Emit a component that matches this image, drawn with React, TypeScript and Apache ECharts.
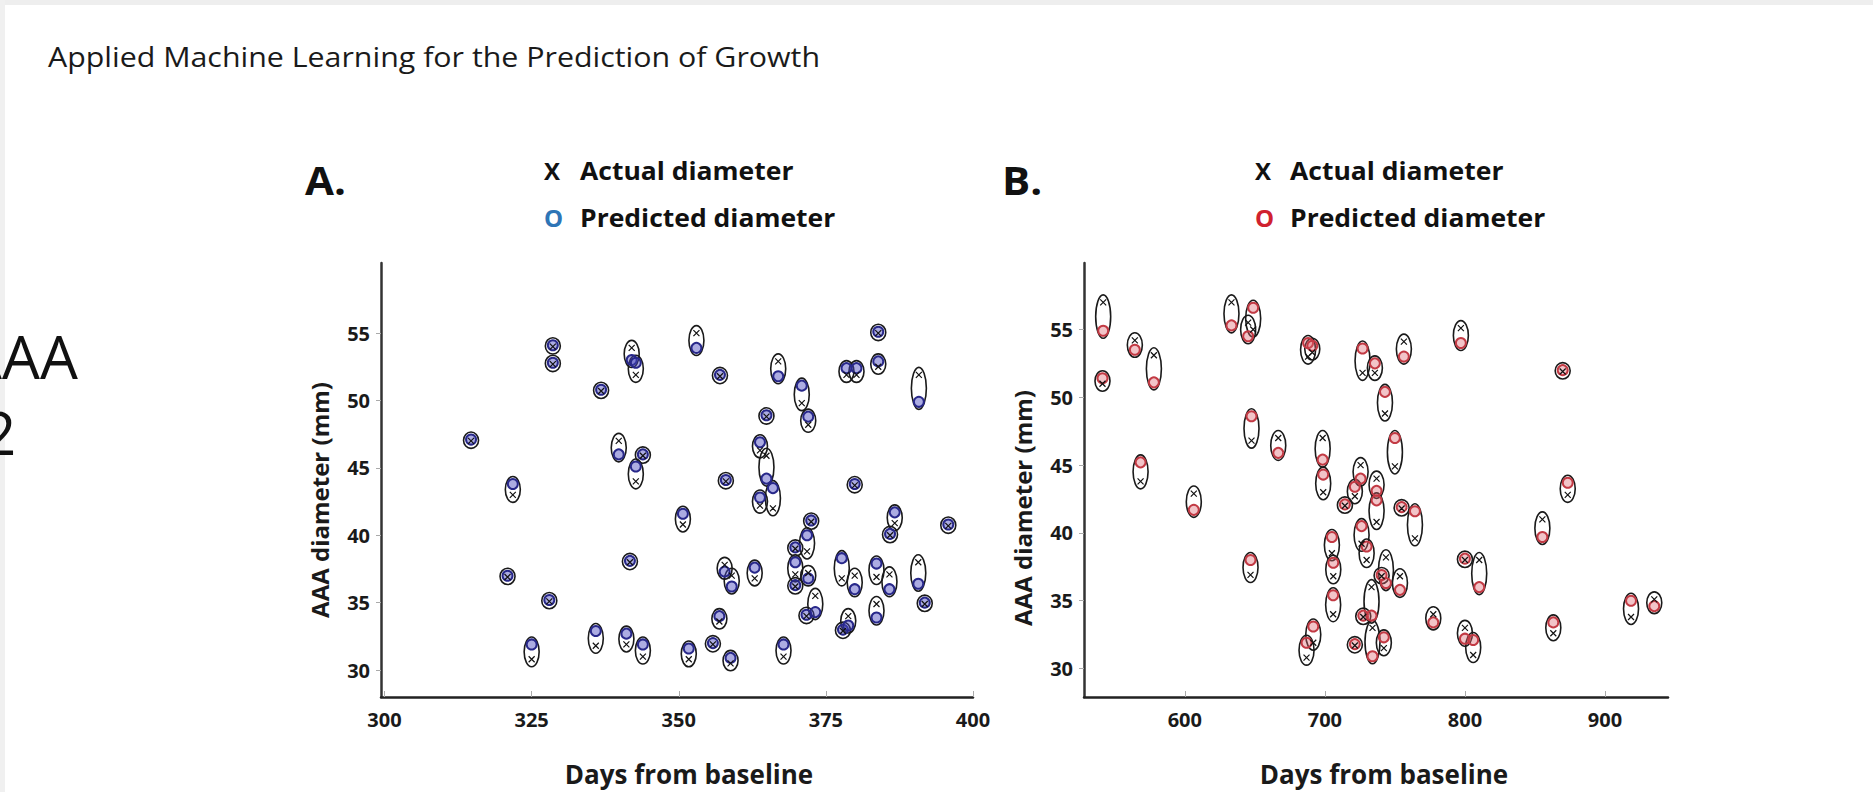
import React, { useEffect, useRef } from 'react';
import * as echarts from 'echarts';

// ---------- Panel A (days 300-400) ----------
const daysA = [
  314.7, 321.8, 320.9, 325.0, 328.0, 328.6, 328.6, 335.9, 336.8, 339.8,
  341.1, 341.7, 342.0, 342.7, 342.7, 343.9, 343.9, 350.7, 351.7, 353.0,
  355.8, 356.9, 357.0, 357.8, 358.0, 358.8, 359.0, 362.9, 363.8, 364.9,
  363.8, 366.0, 364.9, 366.9, 367.8, 369.8, 369.8, 369.8, 370.9, 371.8,
  372.0, 372.0, 372.5, 371.7, 373.2, 377.7, 377.9, 378.5, 378.8, 379.9,
  379.9, 380.2, 383.6, 383.6, 383.9, 383.9, 385.8, 385.9, 386.7, 390.7,
  390.8, 391.8, 395.8,
];
const actualA = [
  47.0, 43.0, 36.9, 30.8, 35.1, 54.0, 52.7, 31.8, 50.7, 47.0,
  31.9, 38.0, 53.9, 51.9, 44.0, 45.9, 31.0, 40.8, 30.8, 55.0,
  31.9, 33.6, 51.8, 37.8, 44.0, 30.5, 37.0, 36.8, 46.3, 45.9,
  42.2, 42.0, 48.8, 52.9, 31.0, 37.1, 36.2, 39.0, 49.8, 38.8,
  48.2, 37.2, 41.0, 34.0, 35.5, 36.8, 32.9, 51.9, 34.0, 37.0,
  43.7, 51.9, 36.9, 34.9, 55.0, 52.5, 37.1, 40.0, 40.9, 38.0,
  51.9, 34.9, 40.7,
];
const predictedA = [
  47.1, 43.8, 37.0, 31.9, 35.2, 54.1, 52.8, 32.9, 50.8, 46.0,
  32.7, 38.1, 53.0, 52.8, 45.1, 46.0, 31.9, 41.6, 31.6, 53.9,
  32.0, 34.0, 51.9, 37.3, 44.1, 30.9, 36.2, 37.6, 46.9, 44.2,
  42.8, 43.5, 48.9, 51.8, 31.9, 38.0, 36.3, 39.1, 51.1, 40.0,
  48.8, 36.8, 41.1, 34.1, 34.3, 38.3, 33.0, 52.4, 33.3, 36.0,
  43.8, 52.4, 37.9, 33.9, 55.1, 52.9, 36.0, 40.1, 41.7, 36.4,
  49.9, 35.0, 40.8,
];

// ---------- Panel B (days 530-945) ----------
const daysB = [
  541.7, 541.2, 564.3, 577.9, 568.4, 606.4, 633.3, 648.8, 645.2, 647.6,
  666.7, 688.0, 691.0, 698.4, 698.8, 646.9, 686.9, 691.7, 705.0, 706.0,
  705.9, 714.3, 721.4, 721.4, 725.5, 726.2, 726.9, 727.4, 729.8, 733.3,
  734.0, 735.7, 736.9, 736.9, 740.5, 742.1, 742.9, 743.6, 750.0, 753.6,
  754.8, 756.4, 764.3, 777.4, 797.1, 800.0, 800.0, 805.9, 810.2, 855.3,
  863.1, 869.8, 873.4, 918.6, 935.2,
];
const actualB = [
  57.0, 51.0, 54.2, 53.1, 43.8, 42.9, 57.0, 55.0, 55.5, 46.8,
  47.0, 53.0, 53.3, 47.0, 43.0, 36.9, 30.8, 31.9, 38.5, 36.8,
  34.0, 42.0, 42.7, 31.7, 45.0, 39.2, 51.8, 33.8, 38.0, 36.0,
  33.0, 51.8, 44.0, 40.8, 36.8, 31.5, 48.8, 38.2, 44.9, 36.8,
  41.8, 54.1, 39.6, 34.0, 55.1, 38.0, 33.0, 31.0, 38.0, 41.0,
  32.6, 51.9, 42.8, 33.8, 35.1,
];
const predictedB = [
  54.9, 51.4, 53.5, 51.1, 45.2, 41.7, 55.3, 56.6, 54.5, 48.6,
  45.9, 54.0, 53.8, 45.4, 44.3, 38.0, 31.9, 33.1, 39.7, 37.8,
  35.4, 42.1, 43.4, 31.8, 44.0, 40.5, 53.6, 33.9, 39.0, 33.9,
  30.9, 52.5, 43.1, 42.4, 36.9, 32.3, 50.4, 36.3, 47.0, 35.8,
  41.9, 53.0, 41.6, 33.4, 54.0, 38.1, 32.2, 32.1, 36.0, 39.7,
  33.4, 52.0, 43.7, 35.0, 34.6,
];

const xTicksA = [300, 325, 350, 375, 400];
const xTicksB = [600, 700, 800, 900];
const yTicks = [30, 35, 40, 45, 50, 55];

const FONT = '"Open Sans", "Noto Sans", sans-serif';
const X_PATH = 'path://M0,0L10,10M10,0L0,10';

function ellipseRender(params: any, api: any) {
  const a = api.coord([api.value(0), api.value(1)]);
  const p = api.coord([api.value(0), api.value(2)]);
  const cy = (a[1] + p[1]) / 2;
  const ry = Math.abs(a[1] - p[1]) / 2 + 7.5;
  return {
    type: 'ellipse',
    shape: { cx: a[0], cy, rx: 7.5, ry },
    style: { fill: 'none', stroke: '#1a1a1a', lineWidth: 1.6 },
  };
}

function xAxisCfg(grid: number, min: number, max: number, ticks: number[], pad: number) {
  return {
    type: 'value', gridIndex: grid, min, max,
    name: 'Days from baseline', nameLocation: 'middle', nameGap: 64,
    nameTextStyle: { fontFamily: FONT, fontWeight: 'bold', fontSize: 26, color: '#1a1a1a', padding: [0, 0, 0, pad] },
    axisLine: { show: true, onZero: false, lineStyle: { color: '#222', width: 2.5 } },
    axisTick: { show: true, inside: true, length: 6, lineStyle: { color: '#aaa' }, customValues: ticks },
    axisLabel: { customValues: ticks, margin: 12, fontFamily: FONT, fontWeight: 'bold', fontSize: 20, color: '#1a1a1a' },
    splitLine: { show: false },
  };
}

function yAxisCfg(grid: number, min: number, max: number, pad: number) {
  return {
    type: 'value', gridIndex: grid, min, max,
    name: 'AAA diameter (mm)', nameLocation: 'middle', nameGap: 50, nameRotate: 90,
    nameTextStyle: { fontFamily: FONT, fontWeight: 'bold', fontSize: 24, color: '#1a1a1a', padding: [0, pad, 0, 0] },
    axisLine: { show: true, onZero: false, lineStyle: { color: '#333', width: 2.5 } },
    axisTick: { show: true, length: 5, lineStyle: { color: '#aaa' }, customValues: yTicks },
    axisLabel: { customValues: yTicks, margin: 11, fontFamily: FONT, fontWeight: 'bold', fontSize: 20, color: '#1a1a1a' },
    splitLine: { show: false },
  };
}

function panelSeries(idx: number, days: number[], actual: number[], predicted: number[], ring: string, fill: string) {
  return [
    {
      type: 'custom', name: 'Range ' + idx, xAxisIndex: idx, yAxisIndex: idx,
      data: days.map((d, i) => [d, actual[i], predicted[i]]),
      encode: { x: 0, y: [1, 2] }, renderItem: ellipseRender, z: 2, silent: true,
    },
    {
      type: 'scatter', name: 'Predicted diameter', xAxisIndex: idx, yAxisIndex: idx,
      data: days.map((d, i) => [d, predicted[i]]),
      symbol: 'circle', symbolSize: 10,
      itemStyle: { color: fill, borderColor: ring, borderWidth: 2, opacity: 1 }, z: 3,
    },
    {
      type: 'scatter', name: 'Actual diameter', xAxisIndex: idx, yAxisIndex: idx,
      data: days.map((d, i) => [d, actual[i]]),
      symbol: X_PATH, symbolSize: 6,
      itemStyle: { color: '#111', borderColor: '#111', borderWidth: 1.2, opacity: 1 }, z: 4,
    },
  ];
}

function txt(text: string, x: number, y: number, size: number, weight: string, color: string, sx = 1) {
  return {
    type: 'text', x, y, scaleX: sx, silent: true,
    style: {
      text, fill: color, fontSize: size, fontWeight: weight, fontFamily: FONT,
      align: 'left', textAlign: 'left', verticalAlign: 'middle', textVerticalAlign: 'middle',
    },
  };
}

export default function App() {
  const ref = useRef<HTMLDivElement>(null);
  useEffect(() => {
    const chart = echarts.init(ref.current!, null, { renderer: 'svg' });
    const option: any = {
      animation: false,
      backgroundColor: '#ffffff',
      grid: [
        { left: 381, top: 263, width: 592, height: 435 },
        { left: 1084, top: 263, width: 584, height: 435 },
      ],
      xAxis: [
        xAxisCfg(0, 299.4, 400, xTicksA, 24),
        xAxisCfg(1, 528, 945, xTicksB, 16),
      ],
      yAxis: [
        yAxisCfg(0, 28, 60.2, 40),
        yAxisCfg(1, 27.9, 59.9, 56),
      ],
      series: [
        ...panelSeries(0, daysA, actualA, predictedA, '#28288a', 'rgba(70,70,190,0.45)'),
        ...panelSeries(1, daysB, actualB, predictedB, '#c23a44', 'rgba(220,100,110,0.38)'),
      ],
      graphic: [
        { type: 'rect', shape: { x: 0, y: 0, width: 1873, height: 5 }, style: { fill: '#eeeeee' }, silent: true },
        { type: 'rect', shape: { x: 0, y: 0, width: 5, height: 792 }, style: { fill: '#f0f0f0' }, silent: true },
        txt('Applied Machine Learning for the Prediction of Growth', 48, 56, 27, 'normal', '#1a1a1a', 1.125),
        txt('AAA', -36, 356, 60, 'normal', '#111'),
        txt('2', -18, 432, 60, 'normal', '#111'),
        txt('A.', 305, 179, 40, 'bold', '#111', 1.05),
        txt('X', 544, 170, 24, 'bold', '#111'),
        txt('Actual diameter', 580, 170, 25, 'bold', '#111', 1.06),
        txt('O', 544, 217, 24, 'bold', '#2e75b6'),
        txt('Predicted diameter', 580, 217, 25, 'bold', '#111', 1.06),
        txt('B.', 1002, 179, 40, 'bold', '#111', 1.05),
        txt('X', 1255, 170, 24, 'bold', '#111'),
        txt('Actual diameter', 1290, 170, 25, 'bold', '#111', 1.06),
        txt('O', 1255, 217, 24, 'bold', '#d0212f'),
        txt('Predicted diameter', 1290, 217, 25, 'bold', '#111', 1.06),
      ],
    };
    chart.setOption(option);
    return () => chart.dispose();
  }, []);
  return (
    <div
      ref={ref}
      style={{ position: 'absolute', left: 0, top: 0, width: 1873, height: 792, background: '#ffffff' }}
    />
  );
}
